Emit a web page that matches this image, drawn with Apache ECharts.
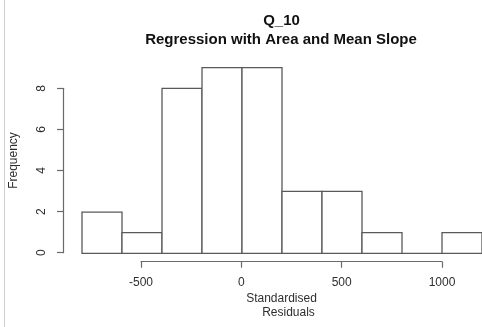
<!DOCTYPE html>
<html>
<head>
<meta charset="utf-8">
<script src="https://cdn.jsdelivr.net/npm/echarts@6/dist/echarts.min.js"></script>
<style>
  html, body { margin: 0; padding: 0; background: #fff; }
  #chart { width: 482px; height: 327px; }
</style>
</head>
<body>
<div id="chart"></div>
<script>
// Histogram of standardised residuals (bin width 200)
const binStarts = [-800, -600, -400, -200, 0, 200, 400, 600, 800, 1000];
const binWidth = 200;
const counts = [2, 1, 8, 9, 9, 3, 3, 1, 0, 1];
const xTicks = [-500, 0, 500, 1000];
const yTicks = [0, 2, 4, 6, 8];

const FONT = 'Liberation Sans, Arial, sans-serif';
const LINE = '#5a5a5a';
const AXIS = '#6a6a6a';
const TEXT = '#2e2e2e';

const chart = echarts.init(document.getElementById('chart'), null, { renderer: 'canvas' });

const histData = binStarts.map((s, i) => [s, s + binWidth, counts[i]]);
const plain = v => String(v);

chart.setOption({
  backgroundColor: '#ffffff',
  animation: false,
  grid: [
    // plotting region for the bars
    { left: 80.7, top: 67.7, width: 401.8, height: 185.6 },
    // bottom axis spanning the tick range only
    { left: 141, top: 260.7, width: 301, height: 1 },
    // left axis spanning the tick range only
    { left: 63, top: 88.3, width: 1, height: 164.4 }
  ],
  xAxis: [
    { gridIndex: 0, type: 'value', min: -800, max: 1200, show: false },
    {
      gridIndex: 1, type: 'value', min: xTicks[0], max: xTicks[xTicks.length - 1], interval: 500,
      position: 'bottom',
      axisLine: { show: true, lineStyle: { color: AXIS, width: 1.2 } },
      axisTick: { show: true, length: 6, lineStyle: { color: AXIS, width: 1.2 } },
      axisLabel: { color: TEXT, fontFamily: FONT, fontSize: 12, margin: 15, formatter: plain },
      splitLine: { show: false }
    },
    { gridIndex: 2, type: 'value', show: false }
  ],
  yAxis: [
    {
      gridIndex: 0, type: 'value', min: 0, max: 9,
      axisLine: { show: false }, axisTick: { show: false }, axisLabel: { show: false },
      splitLine: { show: false },
      name: 'Frequency', nameLocation: 'middle', nameGap: 62, nameRotate: 90,
      nameTextStyle: { color: TEXT, fontFamily: FONT, fontSize: 12 }
    },
    { gridIndex: 1, type: 'value', show: false },
    {
      gridIndex: 2, type: 'value', min: yTicks[0], max: yTicks[yTicks.length - 1], interval: 2,
      position: 'left',
      axisLine: { show: true, lineStyle: { color: AXIS, width: 1.2 } },
      axisTick: { show: true, length: 6, lineStyle: { color: AXIS, width: 1.2 } },
      axisLabel: { color: TEXT, fontFamily: FONT, fontSize: 12, margin: 15, rotate: 90, formatter: plain },
      splitLine: { show: false }
    }
  ],
  series: [{
    type: 'custom',
    xAxisIndex: 0,
    yAxisIndex: 0,
    data: histData,
    renderItem: function (params, api) {
      const p0 = api.coord([api.value(0), 0]);
      const p1 = api.coord([api.value(1), api.value(2)]);
      return {
        type: 'rect',
        shape: { x: p0[0], y: p1[1], width: p1[0] - p0[0], height: p0[1] - p1[1] },
        style: { fill: '#ffffff', stroke: LINE, lineWidth: 1.3 }
      };
    },
    clip: false
  }],
  graphic: [
    { type: 'line', shape: { x1: 4.5, y1: 0, x2: 4.5, y2: 327 }, style: { stroke: '#cfcfcf', lineWidth: 1 } },
    { type: 'text', x: 281.5, y: 21, style: { text: 'Q_10', font: 'bold 15px ' + FONT, fill: '#111', align: 'center', verticalAlign: 'middle' } },
    { type: 'text', x: 281, y: 40, style: { text: 'Regression with Area and Mean Slope', font: 'bold 15px ' + FONT, fill: '#111', align: 'center', verticalAlign: 'middle' } },
    { type: 'text', x: 281.5, y: 299, style: { text: 'Standardised', font: '12px ' + FONT, fill: TEXT, align: 'center', verticalAlign: 'middle' } },
    { type: 'text', x: 288.5, y: 313, style: { text: 'Residuals', font: '12px ' + FONT, fill: TEXT, align: 'center', verticalAlign: 'middle' } }
  ]
});
</script>
</body>
</html>
